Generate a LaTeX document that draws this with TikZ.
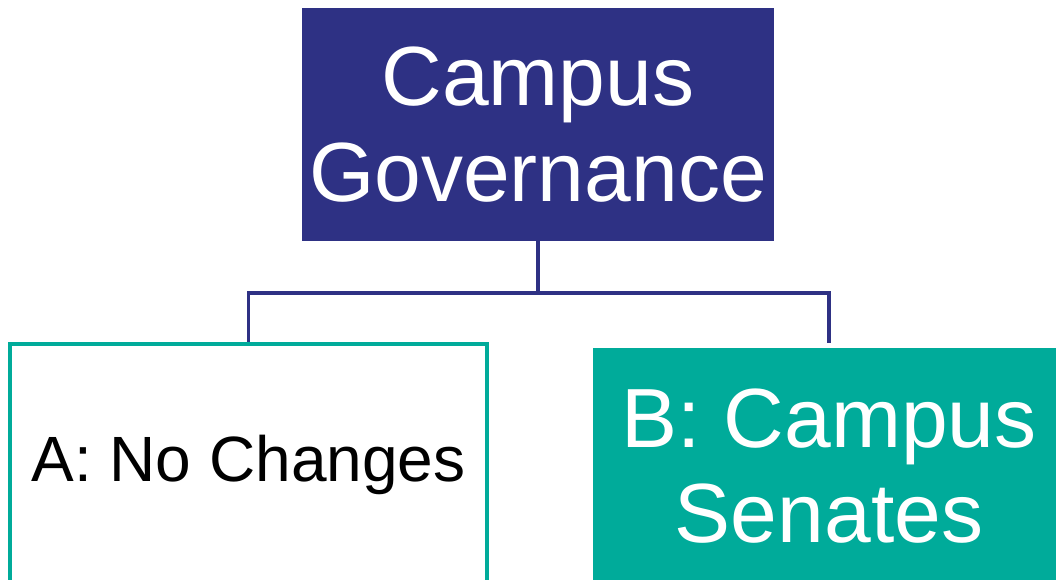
\documentclass[tikz,border=0pt]{standalone}
\usepackage{fontspec}
\setmainfont{Liberation Sans}
\usetikzlibrary{positioning,calc}
\definecolor{govnavy}{HTML}{2E3184}
\definecolor{senteal}{HTML}{00AB9A}
\tikzset{
    % boxes of the chart
    topbox/.style={
           rectangle, fill=govnavy, text=white, align=center,
           minimum width=472pt, minimum height=233pt, inner sep=0pt,
           font=\fontsize{84}{96}\selectfont},
    plainbox/.style={
           rectangle, draw=senteal, line width=4pt, fill=white, align=center,
           minimum width=477pt, minimum height=242pt, inner sep=0pt,
           font=\fontsize{64}{77}\selectfont},
    tealbox/.style={
           rectangle, fill=senteal, text=white, align=center,
           minimum width=472pt, minimum height=236pt, inner sep=0pt,
           font=\fontsize{84}{95}\selectfont},
    % connector style
    link/.style={
           draw=govnavy, line width=3.5pt}
}
\begin{document}
\begin{tikzpicture}[x=1pt, y=-1pt]
	\useasboundingbox (0,0) rectangle (1056,579);
	\clip (0,0) rectangle (1056,579);

	% top of the chart
	\node[topbox] (gov) at (538,124.5) {Campus\\Governance};

	% the two options
	\node[plainbox] (optA) at (248.5,465) {A: No Changes};
	\node[tealbox] (optB) at (829,466) {B: Campus\\Senates};

	\coordinate (bus) at (538,293);
	\draw[link] (gov.south) -- (bus) -| (optA.north);
	\draw[link, shorten >=5pt] (bus) -| (optB.north);

\end{tikzpicture}
\end{document}
